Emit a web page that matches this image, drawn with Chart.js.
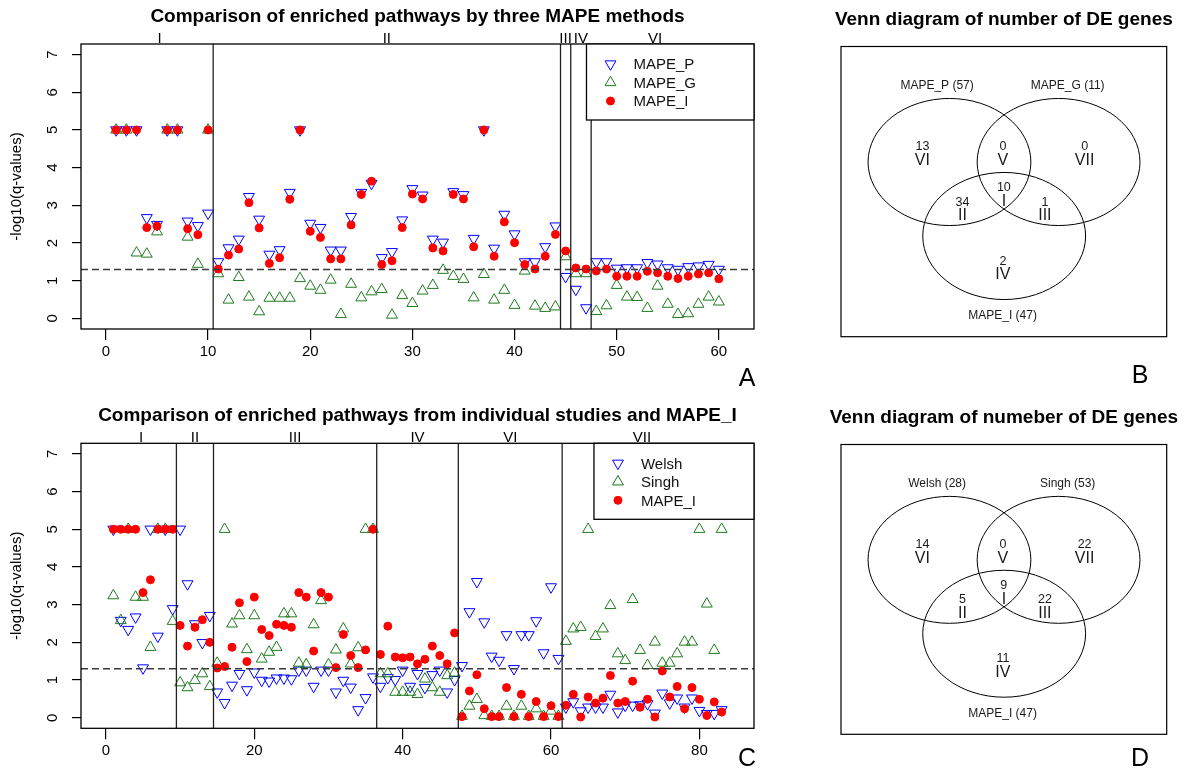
<!DOCTYPE html>
<html>
<head>
<meta charset="utf-8">
<script src="https://cdn.jsdelivr.net/npm/chart.js@4.4.0/dist/chart.umd.min.js"></script>
<style>
body{margin:0;background:#fff;}
#wrap{position:relative;width:1188px;height:770px;overflow:hidden;font-family:"Liberation Sans",Arial,sans-serif;}
#wrap canvas{position:absolute;}
.tag{position:absolute;font-size:25px;line-height:25px;color:#000;transform:translateX(-50%);}
</style>
</head>
<body>
<div id="wrap">
  <canvas id="chartA" width="790" height="392" style="left:0;top:0"></canvas>
  <canvas id="chartC" width="790" height="372" style="left:0;top:398px"></canvas>
  <canvas id="vennB" width="388" height="392" style="left:800px;top:0"></canvas>
  <canvas id="vennD" width="388" height="372" style="left:800px;top:398px"></canvas>
  <div class="tag" style="left:747px;top:365px">A</div>
  <div class="tag" style="left:1140px;top:362px">B</div>
  <div class="tag" style="left:747px;top:745px">C</div>
  <div class="tag" style="left:1140px;top:745px">D</div>
</div>
<script>
// ---- panel A: -log10(q) of 60 pathways, three MAPE methods ----
const groupsA = ['I', 'II', 'III', 'IV', 'VI'];
const groupEdgesA = [0, 10.5, 44.5, 45.5, 47.5, 60];
const mapeP = [5, 5, 5, 2.67, 2.49, 5, 5, 2.58, 2.46, 2.79,
  1.50, 1.87, 2.10, 3.23, 2.63, 1.70, 1.82, 3.34, 5, 2.52,
  2.41, 1.81, 1.81, 2.70, 3.34, 3.58, 1.61, 1.77, 2.61, 3.44,
  3.27, 2.10, 2.02, 3.36, 3.28, 2.12, 5, 1.86, 2.76, 2.24,
  1.50, 1.50, 1.90, 2.45, 1.11, 0.77, 0.28, 1.50, 1.50, 1.33,
  1.34, 1.34, 1.48, 1.44, 1.34, 1.30, 1.37, 1.39, 1.43, 1.30];
const mapeG = [5, 5, 1.74, 1.71, 2.30, 5, 5, 2.16, 1.44, 5,
  1.19, 0.49, 1.09, 0.57, 0.18, 0.54, 0.54, 0.54, 1.06, 0.86,
  0.75, 1.02, 0.11, 0.91, 0.55, 0.71, 0.77, 0.09, 0.61, 0.40,
  0.73, 0.88, 1.28, 1.12, 1.04, 0.55, 1.17, 0.49, 0.75, 0.35,
  1.26, 0.33, 0.27, 0.31, 1.64, 1.19, 1.19, 0.19, 0.34, 0.88,
  0.57, 0.56, 0.27, 0.86, 0.38, 0.11, 0.13, 0.38, 0.57, 0.44];
const mapeI_A = [5, 5, 5, 2.41, 2.45, 5, 5, 2.38, 2.22, 5,
  1.31, 1.68, 1.84, 3.07, 2.40, 1.46, 1.61, 3.16, 5, 2.31,
  2.15, 1.58, 1.58, 2.48, 3.29, 3.64, 1.43, 1.53, 2.41, 3.30,
  3.17, 1.87, 1.79, 3.29, 3.17, 1.90, 5, 1.65, 2.56, 2.01,
  1.43, 1.31, 1.65, 2.23, 1.79, 1.34, 1.31, 1.26, 1.31, 1.12,
  1.12, 1.12, 1.25, 1.21, 1.12, 1.06, 1.12, 1.18, 1.21, 1.05];

// ---- panel C: 83 pathways, individual studies vs MAPE_I ----
const groupsC = ['I', 'II', 'III', 'IV', 'VI', 'VII'];
const groupEdgesC = [0, 9.5, 14.5, 36.5, 47.5, 61.5, 83];
const welsh = [5, 2.58, 2.34, 2.67, 1.32, 5, 2.16, 5, 2.89, 5,
  3.55, 2.49, 1.99, 2.71, 0.68, 0.40, 0.86, 1.17, 0.74, 1.21,
  0.99, 0.97, 1.05, 1.05, 1.03, 1.26, 1.26, 0.83, 1.26, 1.26,
  0.68, 0.99, 0.81, 0.21, 0.53, 1.08, 0.83, 1.06, 1.01, 1.26,
  0.83, 1.17, 0.80, 1.14, 1.26, 0.68, 1.01, 1.38, 2.81, 3.61,
  2.54, 1.63, 1.52, 2.20, 1.30, 2.20, 2.20, 2.57, 1.72, 3.47,
  1.57, 0.28, 0.42, 0.18, 0.28, 0.28, 0.28, 0.62, 0.15, 0.33,
  0.33, 0.34, 0.37, 0.12, 0.65, 0.39, 0.52, 0.28, 0.52, 0.19,
  0.11, 0.11, 0.21];
const singh = [3.24, 2.58, 5, 3.20, 3.20, 1.87, 5, 5, 2.56, 0.93,
  0.80, 0.99, 1.17, 0.83, 1.45, 5, 2.49, 2.71, 1.81, 2.71,
  1.56, 1.74, 1.87, 2.76, 2.76, 1.45, 1.41, 2.47, 3.11, 1.41,
  1.80, 2.36, 1.43, 1.86, 5, 5, 1.17, 1.17, 0.68, 0.68,
  0.68, 0.62, 1.03, 0.80, 0.68, 1.12, 1.19, 0.04, 0.31, 0.49,
  0.06, 0.04, 0.04, 0.31, 0.04, 0.31, 0.04, 0.24, 0.04, 0.18,
  0.04, 2.03, 2.36, 2.40, 5, 2.16, 2.36, 2.98, 1.70, 1.52,
  3.14, 1.79, 1.39, 2.01, 1.45, 1.45, 1.70, 2.01, 2.01, 5,
  3.02, 1.79, 5];
const mapeI_C = [5, 5, 5, 5, 3.32, 3.66, 5, 5, 5, 2.45,
  1.90, 2.40, 2.60, 2.00, 1.32, 1.36, 1.87, 3.05, 1.49, 3.20,
  2.34, 2.18, 2.48, 2.45, 2.40, 3.32, 3.20, 1.77, 3.32, 3.20,
  1.33, 2.21, 1.65, 1.33, 1.80, 5, 1.68, 2.43, 1.61, 1.59,
  1.61, 1.43, 1.55, 1.90, 1.65, 1.43, 2.25, 0.03, 0.71, 1.14,
  0.24, 0.03, 0.03, 0.80, 0.03, 0.62, 0.03, 0.43, 0.03, 0.32,
  0.03, 0.33, 0.62, 0.02, 0.55, 0.39, 0.52, 1.12, 0.39, 0.43,
  0.97, 0.28, 0.49, 0.02, 1.24, 0.55, 0.83, 0.24, 0.80, 0.49,
  0.06, 0.42, 0.15];

const qCutoff = 1.30;   // -log10(0.05)
const yTicks = [0, 1, 2, 3, 4, 5, 6, 7];

// ---- Venn panels B and D ----
const vennRegions = ['VI', 'V', 'VII', 'I', 'II', 'III', 'IV'];
const vennCountsB = [13, 0, 0, 10, 34, 1, 2];
const vennCountsD = [14, 0, 22, 9, 5, 22, 11];
const vennSetsB = ['MAPE_P (57)', 'MAPE_G (11)', 'MAPE_I (47)'];
const vennSetsD = ['Welsh (28)', 'Singh (53)', 'MAPE_I (47)'];
// layout of the diagram in a 0..100 box
const vennRegionX = [25, 49.7, 74.8, 50, 37.3, 62.6, 49.7];
const vennRegionY = [63.5, 63.5, 63.5, 49.3, 44.4, 44.4, 24];
const vennSetX = [29.5, 69.6, 49.6];
const vennSetY = [86.7, 86.7, 7.5];
const vennCircleX = [33.3, 66.8, 50.1];
const vennCircleY = [60.2, 60.2, 34.7];
const vennRX = 25, vennRY = 21.9;

const FONT = '"Liberation Sans", Arial, sans-serif';
Chart.defaults.font.family = FONT;
Chart.defaults.color = '#000';

function drawMarker(ctx, style, rot, r, x, y){
  if (Chart.helpers && Chart.helpers.drawPoint) {
    Chart.helpers.drawPoint(ctx, {pointStyle: style, rotation: rot, radius: r, borderWidth: 1}, x, y);
  }
}

// box, cut-off line, group dividers, labels, rotated y ticks, legend
const rPanel = {
  id: 'rPanel',
  afterDatasetsDraw(chart, args, o){
    const {ctx, chartArea: a, scales: {x, y}} = chart;
    ctx.save();
    const yc = y.getPixelForValue(qCutoff);
    ctx.strokeStyle = '#3a3a3a'; ctx.lineWidth = 1.4; ctx.setLineDash([7, 4]);
    ctx.beginPath(); ctx.moveTo(a.left, yc); ctx.lineTo(a.right, yc); ctx.stroke();
    ctx.setLineDash([]);

    ctx.strokeStyle = '#222'; ctx.lineWidth = 1.3;
    o.edges.slice(1, -1).forEach(e => {
      const px = x.getPixelForValue(e);
      ctx.beginPath(); ctx.moveTo(px, a.top); ctx.lineTo(px, a.bottom); ctx.stroke();
    });
    ctx.strokeStyle = '#000';
    ctx.strokeRect(a.left, a.top, a.right - a.left, a.bottom - a.top);

    ctx.fillStyle = '#000';
    ctx.textAlign = 'center'; ctx.textBaseline = 'alphabetic';
    ctx.font = '15px ' + FONT;
    o.groups.forEach((g, i) => {
      const mid = (o.edges[i] + o.edges[i + 1]) / 2;
      ctx.fillText(g, x.getPixelForValue(mid), a.top - 1);
    });

    // y tick labels, rotated as in R
    y.ticks.forEach(t => {
      ctx.save();
      ctx.translate(52, y.getPixelForValue(t.value));
      ctx.rotate(-Math.PI / 2);
      ctx.fillText(String(t.value), 0, 5.4);
      ctx.restore();
    });

    ctx.font = 'bold 19px ' + FONT;
    ctx.fillText(o.title, (a.left + a.right) / 2, a.top - 29 + 6.8);

    // legend, top right
    ctx.font = '15px ' + FONT;
    const sets = chart.data.datasets;
    const tw = Math.max(...sets.map(d => ctx.measureText(d.label).width));
    const w = 47 + tw + 58, h = 76;
    const lx = a.right - w, ly = a.top;
    ctx.fillStyle = '#fff'; ctx.fillRect(lx, ly, w, h);
    ctx.strokeStyle = '#000'; ctx.lineWidth = 1.3; ctx.strokeRect(lx, ly, w, h);
    sets.forEach((d, i) => {
      const cy = ly + 20 + 18.5 * i;
      ctx.strokeStyle = d.pointBorderColor; ctx.fillStyle = d.pointBackgroundColor; ctx.lineWidth = 1;
      drawMarker(ctx, d.pointStyle, d.pointRotation, d.pointRadius, lx + 24, cy);
      ctx.fillStyle = '#111'; ctx.textAlign = 'left';
      ctx.fillText(d.label, lx + 47, cy + 5.4);
    });
    ctx.restore();
  }
};

function series(label, values, color, style){
  const base = {
    label: label,
    data: values.map((v, i) => ({x: i + 1, y: v})),
    showLine: false,
    pointBorderWidth: 1,
    borderColor: color,
    pointBorderColor: color
  };
  if (style === 'down') return Object.assign(base, {pointStyle: 'triangle', pointRotation: 180, pointRadius: 6.3,
    pointBackgroundColor: 'rgba(0,0,0,0)', order: 3});
  if (style === 'up') return Object.assign(base, {pointStyle: 'triangle', pointRotation: 0, pointRadius: 6.3,
    pointBackgroundColor: 'rgba(0,0,0,0)', order: 2});
  return Object.assign(base, {pointStyle: 'circle', pointRotation: 0, pointRadius: 4,
    pointBackgroundColor: color, order: 1});
}

function scatterPanel(id, sets, o){
  return new Chart(document.getElementById(id), {
    type: 'scatter',
    data: {datasets: sets},
    options: {
      responsive: false, animation: false, events: [],
      layout: {padding: {left: 0, right: 36, top: o.top, bottom: 0}},
      plugins: {legend: {display: false}, tooltip: {enabled: false},
        rPanel: {title: o.title, groups: o.groups, edges: o.edges}},
      scales: {
        x: {type: 'linear', min: o.xmin, max: o.xmax,
          afterFit: s => { s.height = o.xh; },
          border: {display: false},
          grid: {drawOnChartArea: false, tickLength: 11, tickColor: '#000', lineWidth: 1.2},
          ticks: {stepSize: o.xstep, includeBounds: false, maxRotation: 0, padding: 3, color: '#000', font: {size: 15}}},
        y: {type: 'linear', min: -0.28, max: 7.28,
          afterFit: s => { s.width = 81; },
          afterBuildTicks: s => { s.ticks = yTicks.map(v => ({value: v})); },
          border: {display: false},
          grid: {drawOnChartArea: false, tickLength: 9, tickColor: '#000', lineWidth: 1.2},
          ticks: {display: false},
          title: {display: true, text: '-log10(q-values)', color: '#000', font: {size: 15}, padding: {top: 8, bottom: 0}}}
      }
    },
    plugins: [rPanel]
  });
}

scatterPanel('chartA', [
  series('MAPE_P', mapeP, '#0000ff', 'down'),
  series('MAPE_G', mapeG, '#1f7a1f', 'up'),
  series('MAPE_I', mapeI_A, '#ff0000', 'dot')
], {title: 'Comparison of enriched pathways by three MAPE methods', groups: groupsA, edges: groupEdgesA,
    top: 44, xh: 63, xmin: -2.44, xmax: 63.44, xstep: 10});

scatterPanel('chartC', [
  series('Welsh', welsh, '#0000ff', 'down'),
  series('Singh', singh, '#1f7a1f', 'up'),
  series('MAPE_I', mapeI_C, '#ff0000', 'dot')
], {title: 'Comparison of enriched pathways from individual studies and MAPE_I', groups: groupsC, edges: groupEdgesC,
    top: 45.3, xh: 41.7, xmin: -3.36, xmax: 87.36, xstep: 20});

// Venn: ellipses and labels placed through the chart's scales
const vennPlugin = {
  id: 'venn',
  afterDatasetsDraw(chart, args, o){
    const {ctx, chartArea: a, scales: {x, y}} = chart;
    ctx.save();
    ctx.strokeStyle = '#000'; ctx.lineWidth = 1.2;
    ctx.strokeRect(a.left, a.top, a.right - a.left, a.bottom - a.top);
    ctx.lineWidth = 1;
    vennCircleX.forEach((cx, i) => {
      const px = x.getPixelForValue(cx), py = y.getPixelForValue(vennCircleY[i]);
      const rx = x.getPixelForValue(cx + vennRX) - px;
      const ry = py - y.getPixelForValue(vennCircleY[i] + vennRY);
      ctx.beginPath(); ctx.ellipse(px, py, rx, ry, 0, 0, Math.PI * 2); ctx.stroke();
    });
    ctx.fillStyle = '#1a1a1a'; ctx.textAlign = 'center'; ctx.textBaseline = 'alphabetic';
    const regions = chart.getDatasetMeta(0).data;
    regions.forEach((pt, i) => {
      ctx.font = '12.5px ' + FONT;
      ctx.fillText(String(o.counts[i]), pt.x, pt.y - 6.7 + 4.4);
      ctx.font = '16px ' + FONT;
      ctx.fillText(vennRegions[i], pt.x, pt.y + 6.7 + 5.7);
    });
    ctx.font = '12px ' + FONT;
    chart.getDatasetMeta(1).data.forEach((pt, i) => {
      ctx.fillText(o.sets[i], pt.x, pt.y + 4.3);
    });
    ctx.fillStyle = '#000';
    ctx.font = 'bold 19px ' + FONT;
    ctx.fillText(o.title, (a.left + a.right) / 2, a.top - 28 + 6.8);
    ctx.restore();
  }
};

function vennPanel(id, counts, sets, title, padBottom){
  return new Chart(document.getElementById(id), {
    type: 'scatter',
    data: {datasets: [
      {label: 'regions', data: vennRegionX.map((v, i) => ({x: v, y: vennRegionY[i]})), pointRadius: 0},
      {label: 'sets', data: vennSetX.map((v, i) => ({x: v, y: vennSetY[i]})), pointRadius: 0}
    ]},
    options: {
      responsive: false, animation: false, events: [],
      layout: {padding: {left: 41, right: 21.3, top: 46.5, bottom: padBottom}},
      plugins: {legend: {display: false}, tooltip: {enabled: false},
        venn: {counts: counts, sets: sets, title: title}},
      scales: {
        x: {type: 'linear', min: 0, max: 100, display: false},
        y: {type: 'linear', min: 0, max: 100, display: false}
      }
    },
    plugins: [vennPlugin]
  });
}

vennPanel('vennB', vennCountsB, vennSetsB, 'Venn diagram of number of DE genes', 55.3);
vennPanel('vennD', vennCountsD, vennSetsD, 'Venn diagram of numeber of DE genes', 35.7);
</script>
</body>
</html>
